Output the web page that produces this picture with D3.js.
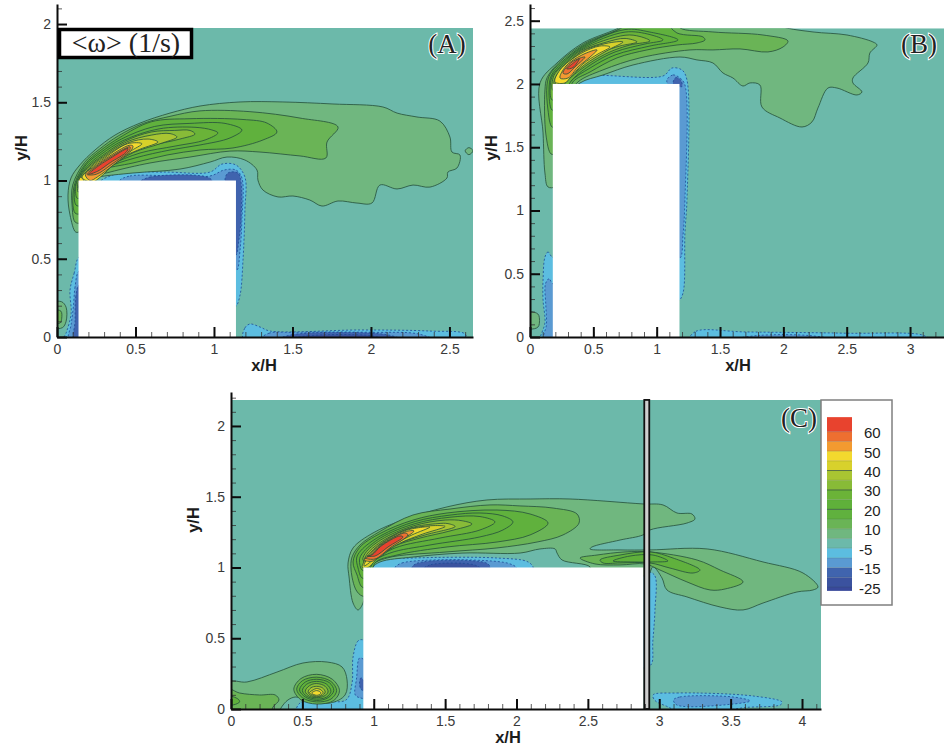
<!DOCTYPE html>
<html>
<head>
<meta charset="utf-8">
<script src="https://cdn.jsdelivr.net/npm/d3@7/dist/d3.min.js"></script>
<style>
html, body { margin: 0; padding: 0; background: #fff; }
svg { display: block; }
text { font-family: "Liberation Sans", Arial, sans-serif; }
.serif { font-family: "Liberation Serif", "Times New Roman", serif; }
</style>
</head>
<body>
<div id="plot"></div>
<script>
//contour bands and their colours, same as the legend
var levelEdges = [-25,-20,-15,-10,-5,5,10,15,20,25,30,35,40,45,50,55,60];
var levelColors = ["#39499b","#3b529f","#4064ae","#5a9ad2","#5cbde0","#6cb9aa","#70b77f","#6ab456","#60b13e","#5fb03a","#6bb338","#88bb37","#a9c532","#d8d12c","#f3d92e","#f39a30","#ee6f30","#e8432e"];
var legendLabels = [60,50,40,30,20,10,-5,-15,-25];

//panel A contours [x/H, y/H]
var a5 = [[.12,.67],[.083,.78],[.07,.907],[.089,1.016],[.146,1.1],[.242,1.195],[.369,1.29],[.529,1.367],[.72,1.431],[.911,1.476],[1.166,1.502],[1.439,1.502],[1.758,1.489],[2.076,1.47],[2.166,1.431],[2.293,1.406],[2.439,1.38],[2.503,1.278],[2.516,1.182],[2.567,1.163],[2.548,1.08],[2.49,1.054],[2.484,1.016],[2.376,.958],[2.268,.971],[2.166,.946],[2.057,.971],[2.006,.856],[1.911,.856],[1.79,.869],[1.688,.837],[1.611,.875],[1.503,.901],[1.408,.895],[1.312,.939],[1.28,1.003],[1.274,1.067],[1.197,1.131],[1.083,1.15],[.975,1.118],[.783,1.073],[.484,1.048],[.255,1.022],[.172,1.003],[.17,.95],[.15,.68]];
var a10 = [[.115,.735],[.096,.843],[.1,.971],[.175,1.115],[.27,1.2],[.39,1.285],[.55,1.365],[.72,1.41],[.911,1.445],[1.229,1.44],[1.548,1.399],[1.79,1.342],[1.72,1.246],[1.713,1.144],[1.548,1.157],[1.293,1.182],[1.102,1.188],[.847,1.15],[.592,1.112],[.338,1.054],[.21,1.016],[.17,.95],[.15,.73]];
var a15 = [[.115,.792],[.108,.96],[.18,1.105],[.275,1.19],[.4,1.275],[.6,1.375],[.847,1.395],[1.185,1.39],[1.338,1.367],[1.401,1.31],[1.312,1.259],[1.121,1.208],[.911,1.195],[.701,1.163],[.484,1.112],[.274,1.067],[.178,1.016],[.17,.95],[.15,.79]];
var a20 = [[.121,.843],[.115,.96],[.185,1.1],[.28,1.18],[.41,1.265],[.62,1.345],[.847,1.365],[1.07,1.365],[1.178,1.323],[1.102,1.272],[.911,1.227],[.72,1.195],[.497,1.144],[.306,1.08],[.191,1.016],[.17,.95],[.15,.84]];
var a25 = [[.127,.888],[.125,.99],[.19,1.09],[.285,1.17],[.42,1.255],[.65,1.33],[.879,1.34],[.987,1.323],[1.025,1.304],[.943,1.259],[.752,1.22],[.529,1.176],[.338,1.099],[.21,1.029],[.17,.95],[.15,.89]];
var a30 = [[.134,.927],[.14,1.01],[.2,1.09],[.29,1.16],[.43,1.25],[.6,1.31],[.75,1.32],[.847,1.32],[.879,1.297],[.783,1.265],[.592,1.22],[.401,1.15],[.255,1.05],[.17,.97]];
var a35 = [[.14,.95],[.15,1.02],[.21,1.09],[.295,1.155],[.44,1.245],[.6,1.29],[.72,1.3],[.764,1.278],[.656,1.235],[.49,1.18],[.34,1.09],[.23,1.0]];
var a40 = [[.15,1.0],[.22,1.09],[.3,1.15],[.45,1.24],[.58,1.265],[.643,1.246],[.529,1.2],[.4,1.14],[.29,1.04],[.2,.99]];
var a45 = [[.16,1.02],[.23,1.09],[.305,1.145],[.45,1.235],[.541,1.235],[.465,1.185],[.369,1.11],[.274,1.02],[.223,.99]];
var a45b = [[.135,.98],[.15,1.02],[.17,1.0],[.16,.9]];
var a50 = [[.18,1.04],[.24,1.09],[.31,1.14],[.46,1.225],[.484,1.22],[.47,1.19],[.36,1.1],[.26,1.025],[.21,1.0]];
var a55 = [[.19,1.04],[.25,1.09],[.315,1.135],[.465,1.215],[.46,1.19],[.35,1.105],[.25,1.04]];
var a60 = [[.2,1.04],[.26,1.09],[.32,1.13],[.452,1.205],[.44,1.18],[.34,1.115],[.26,1.06]];
var aDot = [[2.6,1.19],[2.624,1.21],[2.65,1.19],[2.624,1.165]];
var aCorner5 = [[-.02,.22],[.03,.225],[.058,.19],[.058,.1],[.035,.06],[-.02,.06]];
var aCorner10 = [[-.02,.17],[.025,.165],[.03,.12],[.02,.09],[-.02,.09]];
var aTop5 = [[.274,.99],[.401,1.048],[.688,1.054],[.975,1.054],[1.051,1.105],[1.14,1.099],[1.197,1.022],[1.197,.811],[1.185,.492],[1.166,.268],[1.14,.198],[1.1,.3],[1.1,.9],[.6,.95]];
var aTop10 = [[.401,1.0],[.465,1.029],[.975,1.029],[1.064,1.067],[1.14,1.067],[1.178,1.016],[1.178,.748],[1.166,.556],[1.146,.428],[1.1,.5],[1.1,.9],[.8,.95]];
var aTop15 = [[.529,.99],[.592,1.022],[.943,1.026],[.987,1.0],[.8,.95]];
var aEdge15 = [[1.07,1.0],[1.089,1.048],[1.153,1.048],[1.172,.99],[1.172,.748],[1.159,.62],[1.14,.524],[1.1,.6],[1.1,.95]];
var aWall5 = [[.14,.51],[.11,.41],[.083,.3],[.09,.15],[.06,.03],[.04,-.02],[.2,-.02],[.2,.5]];
var aWall10 = [[.14,.42],[.115,.32],[.105,.2],[.09,.08],[.075,-.02],[.2,-.02],[.2,.4]];
var aWall15 = [[.14,.33],[.12,.26],[.115,.1],[.11,-.02],[.2,-.02],[.2,.3]];
var aFloor5 = [[1.19,-.02],[1.197,.058],[1.229,.083],[1.293,.064],[1.357,.038],[1.93,.045],[2.376,.038],[2.6,.019],[2.6,-.02]];
var aFloor10 = [[1.29,-.02],[1.35,.024],[1.5,.03],[2.0,.03],[2.3,.02],[2.4,-.02]];
var aFloor15 = [[1.4,-.02],[1.5,.015],[2.1,.015],[2.2,-.02]];
var aFloor20 = [[1.45,-.02],[1.6,.008],[2.0,.008],[2.1,-.02]];

//panel B contours
var b5 = [[.142,1.186],[.118,1.296],[.103,1.613],[.079,2.008],[.213,2.166],[.418,2.324],[.71,2.451],[.75,2.5],[1.9,2.5],[1.997,2.451],[2.234,2.411],[2.502,2.387],[2.707,2.332],[2.739,2.308],[2.683,2.245],[2.668,2.166],[2.549,2.047],[2.549,2.008],[2.62,1.937],[2.581,1.913],[2.423,1.968],[2.352,1.968],[2.273,1.81],[2.226,1.7],[2.147,1.66],[1.973,1.731],[1.831,1.818],[1.815,1.992],[1.736,2.008],[1.681,1.984],[1.602,2.047],[1.523,2.087],[1.444,2.166],[1.318,2.19],[1.184,2.213],[.813,2.15],[.576,2.071],[.395,2.008],[.3,1.9],[.25,1.4],[.2,1.19]];
var b10 = [[.166,1.447],[.126,1.597],[.118,1.953],[.135,2.05],[.23,2.17],[.43,2.32],[.726,2.451],[.75,2.5],[1.15,2.5],[1.184,2.443],[1.444,2.411],[1.839,2.387],[2.036,2.34],[1.997,2.292],[1.878,2.253],[1.657,2.277],[1.444,2.269],[1.263,2.269],[.868,2.206],[.576,2.111],[.379,2.016],[.3,1.9],[.2,1.45]];
var b15 = [[.174,1.66],[.142,1.794],[.134,1.992],[.16,2.08],[.24,2.165],[.43,2.31],[.72,2.44],[.8,2.5],[1.05,2.5],[1.16,2.403],[1.365,2.372],[1.381,2.348],[1.318,2.324],[1.16,2.308],[.923,2.269],[.687,2.206],[.474,2.095],[.339,2.016],[.3,1.9],[.22,1.66]];
var b20 = [[.174,1.794],[.15,1.953],[.17,2.07],[.25,2.16],[.42,2.295],[.75,2.43],[.947,2.41],[1.168,2.348],[.947,2.3],[.671,2.229],[.474,2.126],[.316,2.016],[.25,1.9],[.22,1.8]];
var b25 = [[.174,1.874],[.16,1.99],[.18,2.07],[.26,2.155],[.42,2.285],[.75,2.41],[.947,2.39],[1.05,2.348],[.908,2.316],[.671,2.253],[.489,2.158],[.332,2.032],[.25,1.9]];
var b30 = [[.18,1.95],[.19,2.07],[.27,2.15],[.41,2.27],[.75,2.385],[.868,2.375],[.947,2.34],[.789,2.308],[.631,2.253],[.474,2.166],[.316,2.047],[.25,1.98]];
var b35 = [[.19,2.0],[.21,2.07],[.28,2.145],[.41,2.26],[.6,2.33],[.75,2.36],[.845,2.332],[.71,2.3],[.576,2.253],[.434,2.166],[.3,2.047],[.24,2.0]];
var b40 = [[.2,2.0],[.22,2.07],[.29,2.14],[.4,2.25],[.6,2.32],[.734,2.332],[.62,2.27],[.47,2.18],[.33,2.07],[.25,2.0]];
var b45 = [[.197,2.016],[.237,2.111],[.395,2.237],[.552,2.3],[.631,2.292],[.537,2.237],[.418,2.158],[.316,2.047],[.276,2.008]];
var b50 = [[.237,2.047],[.284,2.142],[.41,2.229],[.529,2.269],[.474,2.213],[.379,2.134],[.3,2.047]];
var b55 = [[.26,2.087],[.332,2.174],[.434,2.213],[.363,2.142],[.292,2.079]];
var b60 = [[.29,2.12],[.335,2.16],[.39,2.2],[.34,2.13]];
var bCorner5 = [[-.02,.195],[.05,.19],[.07,.17],[.07,.09],[.05,.07],[-.02,.07]];
var bTop5 = [[.379,2.0],[.418,2.055],[1.05,2.063],[1.121,2.126],[1.2,2.11],[1.239,2.032],[1.239,1.083],[1.223,.822],[1.208,.348],[1.176,.292],[1.1,.5],[1.1,1.9],[.5,1.95]];
var bTop10 = [[1.081,2.032],[1.129,2.071],[1.184,2.047],[1.223,1.992],[1.223,1.083],[1.208,.806],[1.184,.625],[1.1,.7],[1.1,1.95]];
var bTop15 = [[1.13,2.0],[1.15,2.05],[1.19,2.03],[1.2,1.98]];
var bWall5 = [[.174,.632],[.142,.672],[.118,.632],[.103,.451],[.103,.292],[.118,.111],[.087,.016],[.08,-.02],[.25,-.02],[.25,.6]];
var bWall10 = [[.18,.42],[.15,.46],[.122,.42],[.125,.25],[.13,.1],[.11,-.02],[.25,-.02],[.25,.4]];
var bFloor5 = [[1.26,-.02],[1.31,.045],[1.7,.04],[2.5,.03],[3.1,.015],[3.15,-.02]];
var bFloor10 = [[1.6,-.02],[1.8,.012],[2.2,.012],[2.4,-.02]];

//panel C contours
var c5 = [[.89,.7],[.855,.749],[.827,.933],[.82,1.032],[.855,1.138],[.995,1.244],[1.205,1.336],[1.513,1.428],[1.793,1.477],[2.095,1.484],[2.375,1.484],[2.886,1.449],[3.026,1.442],[3.124,1.385],[3.229,1.378],[3.25,1.343],[3.194,1.314],[2.935,1.265],[2.886,1.23],[2.725,1.194],[2.529,1.145],[2.515,1.131],[2.725,1.124],[2.935,1.124],[3.335,1.131],[3.727,1.039],[4.007,.961],[4.112,.862],[4.077,.841],[3.965,.827],[3.727,.749],[3.587,.7],[3.426,.721],[3.194,.792],[3.054,.841],[3.019,.926],[2.956,1.004],[2.92,.95],[2.515,.95],[2.515,1.004],[2.319,1.053],[2.284,1.102],[2.27,1.131],[2.165,1.131],[2.025,1.102],[1.625,1.102],[1.275,1.074],[1.044,1.039],[.988,.996],[.939,.841],[.925,.749]];
var c10 = [[.918,.799],[.876,.841],[.841,.982],[.848,1.074],[.904,1.159],[1.044,1.255],[1.275,1.371],[1.534,1.413],[1.814,1.442],[2.025,1.435],[2.256,1.42],[2.424,1.378],[2.438,1.314],[2.326,1.23],[2.144,1.18],[1.863,1.138],[1.513,1.11],[1.093,1.067],[.988,1.011],[.97,.8]];
var c15 = [[.918,.862],[.883,.947],[.855,1.039],[.9,1.14],[1.044,1.24],[1.275,1.335],[1.513,1.385],[1.863,1.406],[2.095,1.378],[2.221,1.314],[2.095,1.23],[1.863,1.18],[1.513,1.145],[1.163,1.088],[1.009,1.032],[.97,.86]];
var c20 = [[.918,.926],[.89,.996],[.88,1.067],[.91,1.12],[1.05,1.225],[1.29,1.325],[1.534,1.37],[1.744,1.385],[1.905,1.364],[1.975,1.322],[1.905,1.265],[1.744,1.216],[1.394,1.159],[1.114,1.102],[.988,1.032],[.96,.93]];
var c25 = [[.918,.982],[.9,1.053],[.92,1.1],[1.05,1.21],[1.29,1.31],[1.534,1.355],[1.744,1.36],[1.849,1.322],[1.744,1.265],[1.464,1.208],[1.149,1.138],[1.009,1.053],[.96,.98]];
var c30 = [[.925,1.05],[.94,1.1],[1.05,1.195],[1.28,1.295],[1.5,1.335],[1.62,1.33],[1.688,1.307],[1.534,1.258],[1.324,1.208],[1.149,1.152],[1.03,1.067]];
var c35 = [[.93,1.03],[.95,1.09],[1.05,1.18],[1.26,1.28],[1.45,1.31],[1.52,1.31],[1.57,1.29],[1.36,1.23],[1.18,1.17],[1.03,1.08]];
var c40 = [[.92,1.0],[.96,1.085],[1.05,1.17],[1.22,1.265],[1.4,1.295],[1.5,1.29],[1.34,1.235],[1.18,1.17],[1.04,1.08],[.96,1.0]];
var c45 = [[.932,1.011],[.965,1.08],[1.05,1.165],[1.219,1.26],[1.394,1.286],[1.268,1.23],[1.149,1.166],[1.03,1.081]];
var c50 = [[.932,1.053],[.97,1.08],[1.05,1.16],[1.219,1.252],[1.282,1.258],[1.184,1.187],[1.065,1.117],[.995,1.046]];
var c55 = [[.939,1.067],[.98,1.085],[1.05,1.155],[1.219,1.244],[1.24,1.23],[1.114,1.138],[1.009,1.06]];
var c60 = [[.953,1.081],[.99,1.09],[1.05,1.15],[1.184,1.223],[1.205,1.216],[1.1,1.145],[1.009,1.081]];
var cWake10 = [[2.445,1.067],[2.564,1.088],[2.76,1.11],[2.935,1.11],[3.264,1.053],[3.426,.982],[3.587,.898],[3.461,.848],[3.356,.841],[3.194,.898],[3.005,.982],[2.9,1.025],[2.725,1.018],[2.55,1.025]];
var cWake15 = [[2.585,1.053],[2.725,1.088],[2.935,1.11],[3.096,1.067],[3.285,.982],[3.236,.961],[3.075,.996],[2.935,1.032],[2.725,1.032],[2.606,1.032]];
var cWake20 = [[2.676,1.046],[2.795,1.081],[2.956,1.088],[3.061,1.046],[2.956,1.039],[2.816,1.039]];
var cLow5 = [[-.02,.19],[.112,.191],[.322,.261],[.504,.325],[.673,.332],[.778,.297],[.813,.205],[.799,.099],[.694,.042],[.518,.064],[.455,.085],[.399,.064],[.35,.007],[.34,-.02],[-.02,-.02]];
var cLow10 = [[-.02,.14],[.06,.113],[.2,.099],[.31,.099],[.336,.064],[.294,.014],[.28,-.02],[-.02,-.02]];
var cLow15 = [[-.02,.09],[.05,.07],[.06,.05],[.02,.03],[-.02,.03]];
var cEddy10 = [[.44,.14],[.49,.215],[.6,.245],[.71,.21],[.76,.13],[.72,.06],[.6,.035],[.49,.065]];
var cEddy15 = [[.46,.14],[.5,.2],[.6,.225],[.7,.195],[.74,.13],[.7,.07],[.6,.05],[.5,.08]];
var cEddy20 = [[.48,.135],[.52,.19],[.6,.21],[.69,.185],[.72,.13],[.68,.08],[.6,.06],[.52,.085]];
var cEddy25 = [[.5,.13],[.53,.175],[.6,.195],[.67,.175],[.7,.125],[.67,.085],[.6,.07],[.53,.09]];
var cEddy30 = [[.52,.125],[.55,.165],[.6,.18],[.66,.16],[.68,.12],[.65,.09],[.6,.08],[.55,.09]];
var cEddy35 = [[.54,.12],[.56,.15],[.6,.16],[.64,.15],[.66,.12],[.64,.095],[.6,.085],[.56,.095]];
var cEddy40 = [[.55,.115],[.575,.135],[.6,.145],[.63,.135],[.645,.115],[.625,.095],[.6,.09],[.57,.1]];
var cEddy45 = [[.565,.113],[.585,.126],[.6,.13],[.62,.124],[.63,.112],[.615,.1],[.6,.097],[.58,.102]];
var cTop5 = [[.974,.996],[1.065,1.053],[1.275,1.067],[1.863,1.067],[2.081,1.039],[2.116,.996],[1.6,.95]];
var cTop10 = [[1.149,.996],[1.198,1.032],[1.933,1.032],[2.0,.996],[1.6,.95]];
var cTop15 = [[1.268,.996],[1.303,1.03],[1.793,1.03],[1.814,.996],[1.5,.95]];
var cTop20 = [[1.35,.99],[1.4,1.02],[1.7,1.02],[1.75,.99],[1.5,.95]];
var cBack5 = [[2.93,.97],[2.97,.94],[2.97,.7],[2.955,.48],[2.94,.31],[2.85,.3],[2.85,.97]];
var cWall5 = [[.925,.488],[.89,.481],[.855,.367],[.848,.184],[.806,.064],[.623,.057],[.483,.042],[.46,-.02],[1,-.02],[1,.4]];
var cWall10 = [[.93,.35],[.9,.36],[.88,.22],[.87,.1],[.9,.08],[.96,.08],[.96,.3]];
var cWall15 = [[.93,.2],[.91,.22],[.9,.18],[.91,.14],[.93,.13],[.96,.15]];
var cFloor5 = [[2.956,.099],[3.124,.113],[3.657,.092],[3.86,.049],[3.85,.03],[3.6,.01],[3.4,-.02],[3.15,-.02],[3.05,.02],[2.97,.06]];
var cFloor10 = [[3.1,.064],[3.145,.085],[3.517,.085],[3.636,.057],[3.517,.035],[3.124,.028]];

//the value is the lower edge of the band a contour encloses
var contoursA = [[-10,aTop5],[-15,aTop10],[-20,aTop15],[-20,aEdge15],[-10,aWall5],[-15,aWall10],[-20,aWall15],[-10,aFloor5],[-15,aFloor10],[-20,aFloor15],[-25,aFloor20],
    [5,aCorner5],[10,aCorner10],[5,aDot],[5,a5],[10,a10],[15,a15],[20,a20],[25,a25],[30,a30],[35,a35],[40,a40],[45,a45],[45,a45b],[50,a50],[55,a55],[60,a60]];
var contoursB = [[-10,bTop5],[-15,bTop10],[-20,bTop15],[-10,bWall5],[-15,bWall10],[-10,bFloor5],[-15,bFloor10],
    [5,bCorner5],[5,b5],[10,b10],[15,b15],[20,b20],[25,b25],[30,b30],[35,b35],[40,b40],[45,b45],[50,b50],[55,b55],[60,b60]];
var contoursC = [[-10,cTop5],[-15,cTop10],[-20,cTop15],[-25,cTop20],[-10,cBack5],[-10,cWall5],[-15,cWall10],[-20,cWall15],[-10,cFloor5],[-15,cFloor10],
    [5,cLow5],[10,cLow10],[15,cLow15],[10,cEddy10],[15,cEddy15],[20,cEddy20],[25,cEddy25],[30,cEddy30],[35,cEddy35],[40,cEddy40],[45,cEddy45],
    [5,c5],[10,c10],[15,c15],[20,c20],[25,c25],[30,c30],[35,c35],[40,c40],[45,c45],[50,c50],[55,c55],[60,c60],[10,cWake10],[15,cWake15],[20,cWake20]];

//tick labels
var ticksAx = [0,.5,1,1.5,2,2.5];
var ticksAy = [0,.5,1,1.5,2];
var ticksBx = [0,.5,1,1.5,2,2.5,3];
var ticksBy = [0,.5,1,1.5,2,2.5];
var ticksCx = [0,.5,1,1.5,2,2.5,3,3.5,4];
var ticksCy = [0,.5,1,1.5,2];

var width = 944, height = 749;

var svg = d3.select("#plot")
    .append("svg")
        .attr("width", width)
        .attr("height", height);

//the source figure is a soft scan, take the hard edge off the contours
svg.append("filter")
    .attr("id","soft")
    .append("feGaussianBlur")
        .attr("stdDeviation",0.35);

var color = d3.scaleThreshold().domain(levelEdges).range(levelColors);

drawPanel({id:"A", left:57, right:473, bottom:337, axisTop:4, xMax:2.65, yMax:2.128, yTop:1.975,
    block:[.137,1.14,1], contours:contoursA, xTicks:ticksAx, yTicks:ticksAy,
    tag:"(A)", tagX:447, tagY:53, xLabelX:264, xLabelY:371, yLabelX:27, yLabelY:148});
drawPanel({id:"B", left:530, right:944, bottom:337, axisTop:4, xMax:3.268, yMax:2.632, yTop:2.44,
    block:[.18,1.18,2], contours:contoursB, xTicks:ticksBx, yTicks:ticksBy,
    tag:"(B)", tagX:919, tagY:53, xLabelX:738, xLabelY:371, yLabelX:497, yLabelY:148});
drawPanel({id:"C", left:231, right:821, bottom:709, axisTop:392, xMax:4.133, yMax:2.24, yTop:2.184,
    block:[.927,2.89,1], contours:contoursC, xTicks:ticksCx, yTicks:ticksCy,
    tag:"(C)", tagX:799, tagY:427, xLabelX:508, xLabelY:743, yLabelX:199, yLabelY:520, wall:[2.895,2.93]});

function drawPanel(p) {
    var x = d3.scaleLinear().domain([0,p.xMax]).range([p.left,p.right]);
    var y = d3.scaleLinear().domain([0,p.yMax]).range([p.bottom,p.axisTop]);

    svg.append("clipPath")
        .attr("id","clip"+p.id)
        .append("rect")
            .attr("x",p.left)
            .attr("y",y(p.yTop))
            .attr("width",p.right-p.left)
            .attr("height",p.bottom-y(p.yTop));

    var g = svg.append("g").attr("clip-path","url(#clip"+p.id+")");

    g.append("rect")
        .attr("x",p.left)
        .attr("y",y(p.yTop))
        .attr("width",p.right-p.left)
        .attr("height",p.bottom-y(p.yTop))
        .style("fill",color(0));

    var line = d3.line()
        .x(function(d){return x(d[0])})
        .y(function(d){return y(d[1])})
        .curve(d3.curveCatmullRomClosed.alpha(0.5));

    g.append("g")
        .attr("filter","url(#soft)")
        .selectAll("path.contour")
        .data(p.contours)
        .join("path")
            .attr("class","contour")
            .attr("d",function(d){return line(d[1])})
            .style("fill",function(d){return color(d[0])})
            .style("stroke",function(d){return d[0]<0 ? "#1d4c96" : "#25503c"})
            .style("stroke-width",0.9)
            .style("stroke-opacity",0.9)
            .style("stroke-dasharray",function(d){return d[0]<0 ? "2,2" : null});

    //the building is blank
    g.append("rect")
        .attr("x",x(p.block[0]))
        .attr("y",y(p.block[2]))
        .attr("width",x(p.block[1])-x(p.block[0]))
        .attr("height",y(0)-y(p.block[2]))
        .style("fill","#fff");

    if (p.wall) {
        svg.append("rect")
            .attr("x",x(p.wall[0]))
            .attr("y",y(p.yTop))
            .attr("width",x(p.wall[1])-x(p.wall[0]))
            .attr("height",y(0)-y(p.yTop))
            .style("fill","#cfcfcf")
            .style("stroke","#111")
            .style("stroke-width",1.8);
    }

    //minor ticks first, then the labelled axes
    svg.append("g")
        .attr("transform","translate(0,"+p.bottom+")")
        .call(d3.axisBottom(x).tickValues(d3.range(0,p.xMax,.1)).tickSize(-5).tickSizeOuter(0).tickFormat(""))
        .call(styleMinor);
    svg.append("g")
        .attr("transform","translate("+p.left+",0)")
        .call(d3.axisLeft(y).tickValues(d3.range(0,p.yMax,.1)).tickSize(-5).tickSizeOuter(0).tickFormat(""))
        .call(styleMinor);

    svg.append("g")
        .attr("transform","translate(0,"+p.bottom+")")
        .call(d3.axisBottom(x).tickValues(p.xTicks).tickSize(-10).tickSizeOuter(0).tickPadding(7).tickFormat(d3.format("~g")))
        .call(styleMajor);
    svg.append("g")
        .attr("transform","translate("+p.left+",0)")
        .call(d3.axisLeft(y).tickValues(p.yTicks).tickSize(-10).tickSizeOuter(0).tickPadding(6).tickFormat(d3.format("~g")))
        .call(styleMajor);

    svg.append("text")
        .attr("x",p.xLabelX)
        .attr("y",p.xLabelY)
        .attr("text-anchor","middle")
        .style("font-size","16.5px")
        .style("font-weight","bold")
        .style("fill","#1c1c1c")
        .text("x/H");
    svg.append("text")
        .attr("transform","translate("+p.yLabelX+","+p.yLabelY+") rotate(-90)")
        .attr("text-anchor","middle")
        .style("font-size","16.5px")
        .style("font-weight","bold")
        .style("fill","#1c1c1c")
        .text("y/H");

    svg.append("text")
        .attr("class","serif")
        .attr("x",p.tagX)
        .attr("y",p.tagY)
        .attr("text-anchor","middle")
        .style("font-size","27px")
        .style("fill","#222")
        .style("stroke","#fff")
        .style("stroke-width",2)
        .style("paint-order","stroke")
        .text(p.tag);
}

function styleMinor(g) {
    g.select(".domain").remove();
    g.selectAll(".tick line").attr("stroke","#333").attr("stroke-width",0.8);
}

function styleMajor(g) {
    g.select(".domain").attr("stroke","#0c0c0c").attr("stroke-width",2);
    g.selectAll(".tick line").attr("stroke","#0c0c0c").attr("stroke-width",2);
    g.selectAll(".tick text")
        .style("font-family","'Liberation Sans', Arial, sans-serif")
        .style("font-size","14px")
        .style("fill","#3a3a3a");
}

//title box of panel A
svg.append("rect")
    .attr("x",59.5)
    .attr("y",29.5)
    .attr("width",132)
    .attr("height",28)
    .style("fill","#fff")
    .style("stroke","#000")
    .style("stroke-width",3.5);
svg.append("text")
    .attr("class","serif")
    .attr("x",126)
    .attr("y",52)
    .attr("text-anchor","middle")
    .style("font-size","28px")
    .style("fill","#222")
    .text("<\u03C9> (1/s)");

//legend
var legendY = d3.scaleLinear().domain([0,levelEdges.length-1]).range([587,431.7]);
var legend = svg.append("g");
legend.append("rect")
    .attr("x",821)
    .attr("y",400)
    .attr("width",71)
    .attr("height",205)
    .style("fill","#fff")
    .style("stroke","#7f7f7f")
    .style("stroke-width",1.5);

var bandEdges = [-0.4].concat(d3.range(levelEdges.length)).concat([levelEdges.length-1+1.5]);
legend.selectAll("rect.band")
    .data(levelColors)
    .join("rect")
        .attr("class","band")
        .attr("x",827)
        .attr("width",25)
        .attr("y",function(d,i){return legendY(bandEdges[i+1])})
        .attr("height",function(d,i){return legendY(bandEdges[i])-legendY(bandEdges[i+1])})
        .style("fill",function(d){return d});
legend.selectAll("line.edge")
    .data(levelEdges)
    .join("line")
        .attr("class","edge")
        .attr("x1",827)
        .attr("x2",852)
        .attr("y1",function(d,i){return legendY(i)})
        .attr("y2",function(d,i){return legendY(i)})
        .style("stroke","#2b4a3a")
        .style("stroke-width",0.8)
        .style("stroke-opacity",function(d){return (d===20||d===30||d===40) ? 0.9 : 0.25});
legend.selectAll("text")
    .data(legendLabels)
    .join("text")
        .attr("x",function(d){return d<0 ? 859 : 864})
        .attr("y",function(d){return legendY(levelEdges.indexOf(d))+6.5})
        .style("font-size","15px")
        .style("fill","#222")
        .text(function(d){return d});
</script>
</body>
</html>
